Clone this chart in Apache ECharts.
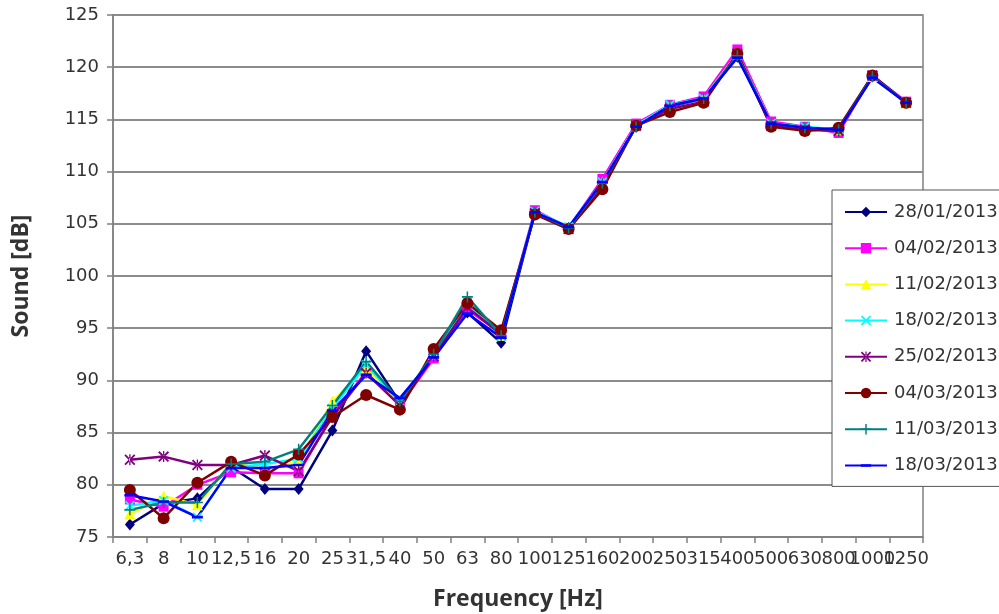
<!DOCTYPE html>
<html>
<head>
<meta charset="utf-8">
<script src="https://cdn.jsdelivr.net/npm/echarts@6/dist/echarts.min.js"></script>
<style>
html, body { margin: 0; padding: 0; background: #fff; }
#chart { width: 999px; height: 614px; }
</style>
</head>
<body>
<div id="chart"></div>
<script>
// Third-octave band centre frequencies (Hz)
const frequencies = ['6,3', '8', '10', '12,5', '16', '20', '25', '31,5', '40', '50', '63', '80',
  '100', '125', '160', '200', '250', '315', '400', '500', '630', '800', '1000', '1250'];

const seriesNames = ['28/01/2013', '04/02/2013', '11/02/2013', '18/02/2013',
  '25/02/2013', '04/03/2013', '11/03/2013', '18/03/2013'];

// Sound level per band (dB), one array per measurement date
const s28_01 = [76.2, 78.2, 78.7, 81.7, 79.6, 79.6, 85.2, 92.8, 87.9, 92.4, 96.5, 93.6, 106.1, 104.6, 108.9, 114.3, 116.2, 117.0, 121.0, 114.6, 114.2, 114.0, 119.1, 116.6];
const s04_02 = [78.6, 77.9, 80.0, 81.2, 81.1, 81.1, 86.7, 90.8, 87.6, 92.1, 96.8, 94.5, 106.3, 104.6, 109.3, 114.6, 116.4, 117.2, 121.7, 114.8, 114.3, 113.7, 119.2, 116.7];
const s11_02 = [77.2, 78.9, 78.1, 82.1, 81.5, 82.2, 88.0, 91.2, 87.8, 92.5, 97.6, 94.3, 106.1, 104.6, 109.0, 114.4, 116.3, 117.0, 121.3, 114.6, 114.2, 114.0, 119.1, 116.6];
const s18_02 = [78.0, 78.5, 76.9, 81.6, 82.0, 82.5, 87.3, 91.5, 87.9, 92.4, 97.5, 94.2, 106.2, 104.7, 109.0, 114.4, 116.4, 117.0, 121.2, 114.6, 114.3, 114.0, 119.1, 116.6];
const s25_02 = [82.4, 82.7, 81.9, 81.9, 82.8, 81.3, 86.5, 90.7, 87.6, 92.3, 97.0, 94.4, 106.0, 104.5, 108.6, 114.4, 116.0, 116.7, 121.3, 114.4, 114.0, 113.9, 119.2, 116.6];
const s04_03 = [79.5, 76.8, 80.2, 82.2, 80.9, 82.9, 86.5, 88.6, 87.2, 93.0, 97.4, 94.8, 105.9, 104.5, 108.3, 114.4, 115.7, 116.6, 121.3, 114.3, 113.9, 114.2, 119.2, 116.6];
const s11_03 = [77.6, 78.3, 78.3, 82.0, 82.2, 83.4, 87.6, 91.8, 88.0, 92.5, 98.0, 94.3, 106.1, 104.6, 108.9, 114.3, 116.3, 117.0, 121.1, 114.6, 114.2, 114.0, 119.1, 116.6];
const s18_03 = [79.0, 78.4, 76.9, 81.6, 81.6, 81.9, 87.1, 90.5, 88.3, 92.2, 96.4, 94.1, 106.1, 104.7, 109.0, 114.3, 116.3, 117.0, 120.9, 114.6, 114.2, 114.0, 119.0, 116.6];

const yTicks = { min: 75, max: 125, step: 5 };

const TEXT = '#333333';
const FONT = '"DejaVu Sans", sans-serif';
const TITLE_FONT = '"Open Sans", sans-serif';

// Marker shapes (10x10 box)
const SYM_X = 'path://M0,1.2L1.2,0L5,3.8L8.8,0L10,1.2L6.2,5L10,8.8L8.8,10L5,6.2L1.2,10L0,8.8L3.8,5Z';
const SYM_PLUS = 'path://M4.3,0H5.7V4.3H10V5.7H5.7V10H4.3V5.7H0V4.3H4.3Z';
const SYM_STAR = 'path://M0,1.2L1.2,0L5,3.8L8.8,0L10,1.2L6.2,5L10,8.8L8.8,10L5,6.2L1.2,10L0,8.8L3.8,5Z M4.4,0L4.4,10L5.6,10L5.6,0Z';
// short horizontal dash; corner specks keep the square bounding box
const SYM_DASH = 'path://M0,0H0.01V0.01H0Z M0,3.8H10V6.2H0Z M9.99,9.99H10V10H9.99Z';

const styles = [
  { data: s28_01, color: '#000080', symbol: 'diamond', size: [10, 12] },
  { data: s04_02, color: '#FF00FF', symbol: 'rect', size: 10 },
  { data: s11_02, color: '#FFFF00', symbol: 'triangle', size: 11 },
  { data: s18_02, color: '#00FFFF', symbol: SYM_X, size: 10 },
  { data: s25_02, color: '#800080', symbol: SYM_STAR, size: 11 },
  { data: s04_03, color: '#800000', symbol: 'circle', size: 12 },
  { data: s11_03, color: '#008080', symbol: SYM_PLUS, size: 11 },
  { data: s18_03, color: '#0000FF', symbol: SYM_DASH, size: 11 }
];

const series = styles.map((s, i) => ({
  name: seriesNames[i],
  type: 'line',
  data: s.data,
  symbol: s.symbol,
  symbolSize: s.size,
  showAllSymbol: true,
  lineStyle: { color: s.color, width: 2.5 },
  itemStyle: { color: s.color },
  emphasis: { disabled: true },
  animation: false
}));

const chart = echarts.init(document.getElementById('chart'), null, { renderer: 'canvas' });
chart.setOption({
  backgroundColor: '#ffffff',
  animation: false,
  grid: {
    left: 113, right: 76, top: 15, bottom: 77,
    containLabel: false,
    outerBoundsMode: 'none',
    show: true, borderColor: '#808080', borderWidth: 1.5, backgroundColor: 'transparent'
  },
  legend: {
    orient: 'vertical',
    left: 832, top: 190,
    padding: [13, 30, 12, 12],
    itemGap: 18.2,
    itemWidth: 42, itemHeight: 13,
    backgroundColor: '#ffffff',
    borderColor: '#555555', borderWidth: 1,
    textStyle: { fontFamily: FONT, fontSize: 18, color: TEXT, padding: [0, 0, 0, 2] },
    data: seriesNames
  },
  xAxis: {
    type: 'category',
    data: frequencies,
    boundaryGap: true,
    name: 'Frequency [Hz]',
    nameLocation: 'middle',
    nameGap: 51,
    nameMoveOverlap: false,
    nameTextStyle: { fontFamily: TITLE_FONT, fontWeight: 'bold', fontSize: 23, color: TEXT },
    axisLine: { lineStyle: { color: '#808080', width: 1.5 } },
    axisTick: { show: true, alignWithLabel: false, length: 6, lineStyle: { color: '#808080', width: 1.5 } },
    axisLabel: { interval: 0, hideOverlap: false, margin: 13, fontFamily: FONT, fontSize: 18, color: TEXT },
    splitLine: { show: false }
  },
  yAxis: {
    type: 'value',
    min: yTicks.min, max: yTicks.max, interval: yTicks.step,
    name: 'Sound [dB]',
    nameLocation: 'middle',
    nameGap: 80,
    nameRotate: 90,
    nameMoveOverlap: false,
    nameTextStyle: { fontFamily: TITLE_FONT, fontWeight: 'bold', fontSize: 23, color: TEXT },
    axisLine: { show: true, lineStyle: { color: '#808080', width: 1.5 } },
    axisTick: { show: true, length: 6, lineStyle: { color: '#808080', width: 1.5 } },
    axisLabel: { margin: 14, fontFamily: FONT, fontSize: 18, color: TEXT },
    splitLine: { show: true, lineStyle: { color: '#8c8c8c', width: 2 } }
  },
  series: series
});
</script>
</body>
</html>
